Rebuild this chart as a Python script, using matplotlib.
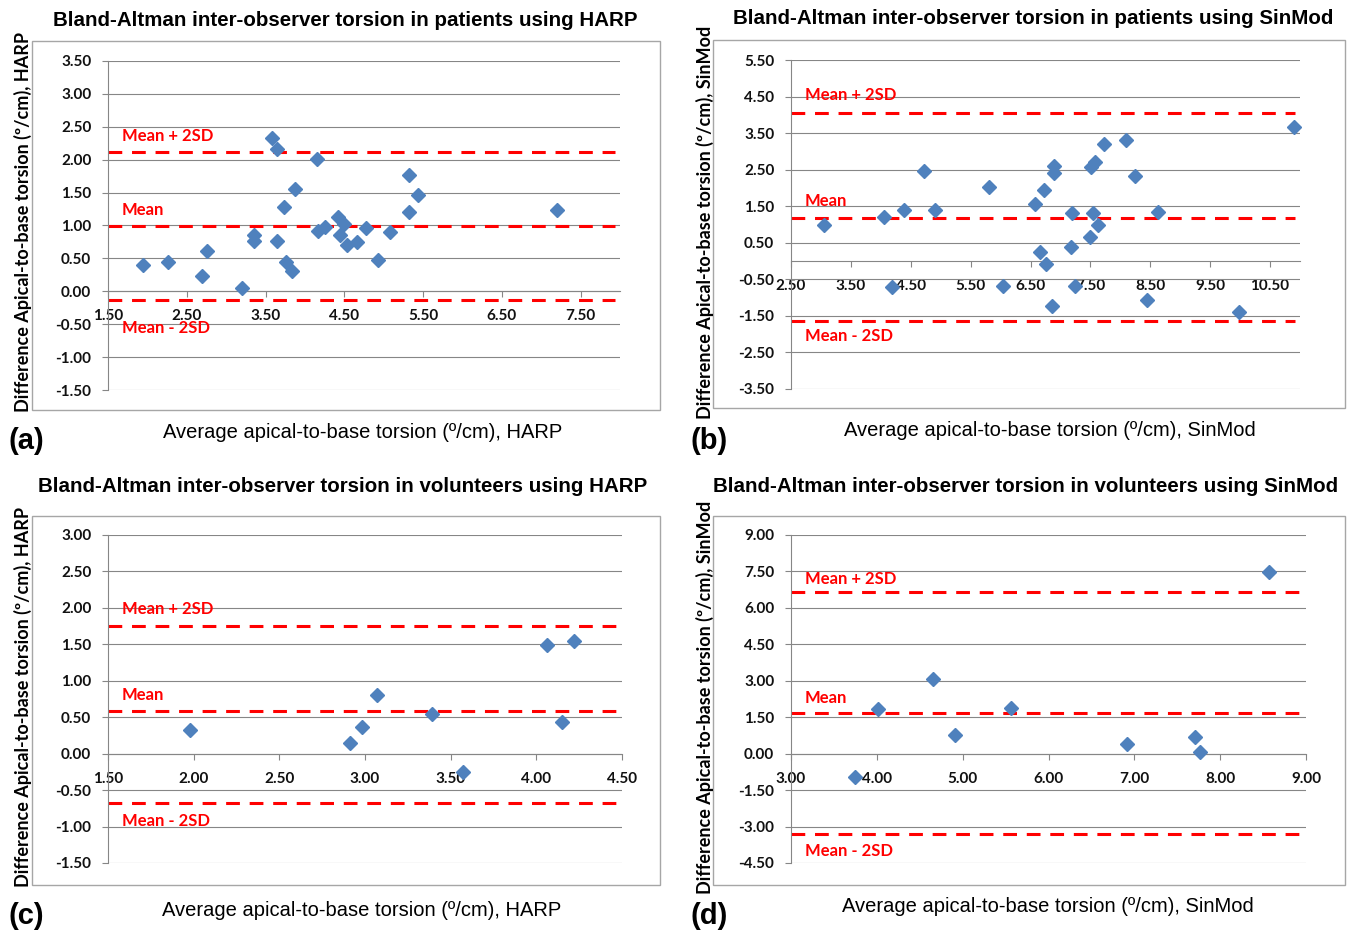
import matplotlib
matplotlib.use("Agg")
import matplotlib.pyplot as plt
from matplotlib.patches import Rectangle
from matplotlib import font_manager

W, H = 1358, 935

# ---- data ----
titles = ["Bland-Altman inter-observer torsion in patients using HARP",
          "Bland-Altman inter-observer torsion in patients using SinMod",
          "Bland-Altman inter-observer torsion in volunteers using HARP",
          "Bland-Altman inter-observer torsion in volunteers using SinMod"]
methods = ["HARP", "SinMod", "HARP", "SinMod"]
panel_tags = ["(a)", "(b)", "(c)", "(d)"]

a_avg = [1.95, 2.26, 2.69, 2.76, 3.20, 3.35, 3.35, 3.58, 3.64, 3.65, 3.74, 3.76, 3.83, 3.88,
         4.15, 4.17, 4.25, 4.42, 4.49, 4.45, 4.53, 4.66, 4.78, 4.93, 5.08, 5.32, 5.32, 5.43, 7.20]
a_diff = [0.40, 0.45, 0.23, 0.62, 0.05, 0.85, 0.77, 2.33, 2.17, 0.77, 1.28, 0.44, 0.31, 1.56,
          2.01, 0.92, 0.97, 1.13, 1.02, 0.85, 0.70, 0.75, 0.96, 0.48, 0.90, 1.76, 1.20, 1.46, 1.24]

b_avg = [3.05, 4.05, 4.18, 4.39, 4.72, 4.90, 5.80, 6.04, 6.58, 6.65, 6.72, 6.75, 6.86, 6.90, 6.90,
         7.18, 7.20, 7.25, 7.49, 7.51, 7.57, 7.55, 7.62, 7.72, 8.10, 8.25, 8.45, 8.63, 9.98, 10.90]
b_diff = [0.98, 1.20, -0.72, 1.39, 2.47, 1.41, 2.02, -0.69, 1.57, 0.24, 1.95, -0.07, -1.23, 2.61, 2.42,
          0.39, 1.32, -0.68, 0.65, 2.56, 2.71, 1.32, 0.98, 3.21, 3.31, 2.34, -1.07, 1.33, -1.39, 3.67]

c_avg = [1.98, 2.91, 2.98, 3.07, 3.39, 3.57, 4.06, 4.15, 4.22]
c_diff = [0.33, 0.15, 0.37, 0.80, 0.55, -0.25, 1.49, 0.44, 1.54]

d_avg = [3.74, 4.01, 4.65, 4.91, 5.56, 6.91, 7.71, 7.76, 8.57]
d_diff = [-0.94, 1.85, 3.09, 0.77, 1.86, 0.40, 0.67, 0.08, 7.48]

means = [0.99, 1.19, 0.58, 1.68]
upper = [2.11, 4.05, 1.75, 6.66]
lower = [-0.13, -1.64, -0.68, -3.30]

x_ranges = [(1.5, 8.0, 1.0), (2.5, 11.0, 1.0), (1.5, 4.5, 0.5), (3.0, 9.0, 1.0)]
y_ranges = [(-1.5, 3.5, 0.5), (-3.5, 5.5, 1.0), (-1.5, 3.0, 0.5), (-4.5, 9.0, 1.5)]

series = [(a_avg, a_diff), (b_avg, b_diff), (c_avg, c_diff), (d_avg, d_diff)]

# ---- layout (pixels) ----
plot_boxes = [(108, 61, 620, 390), (791, 60, 1300, 389), (108, 535, 622, 863), (791, 535, 1306, 863)]
frames = [(32, 41, 660, 410), (713, 40, 1345, 408), (32, 516, 660, 885), (713, 516, 1345, 885)]
title_xy = [(345, 20), (1033, 18), (343, 487), (1026, 487)]
ylab_xy = [(23, 222), (705, 222), (23, 697), (705, 697)]
xlab_xy = [(363, 433), (1050, 431), (362, 910), (1048, 907)]
tag_xy = [(8, 441), (690, 441), (8, 916), (690, 916)]
lab_off = [(16, 16, -28), (18, 17, -15), (17, 16, -18), (13, 15, -17)]

avail = {f.name for f in font_manager.fontManager.ttflist}
narrow = "Liberation Sans Narrow" if "Liberation Sans Narrow" in avail else "Liberation Sans"
body = "Lato"

grid_c = "#868686"
blue = "#4F81BD"

fig = plt.figure(figsize=(W / 100, H / 100), dpi=100)

for i in range(4):
    x0, y0, x1, y1 = plot_boxes[i]
    ax = fig.add_axes([x0 / W, (H - y1) / H, (x1 - x0) / W, (y1 - y0) / H])
    xmin, xmax, xstep = x_ranges[i]
    ymin, ymax, ystep = y_ranges[i]
    ax.set_xlim(xmin, xmax)
    ax.set_ylim(ymin, ymax)
    nx = int(round((xmax - xmin) / xstep))
    xt = [xmin + k * xstep for k in range(nx + 1) if xmin + k * xstep <= xmax - 0.5 * xstep or i >= 2]
    ax.set_xticks(xt)
    ax.set_xticklabels([f"{v:.2f}" for v in xt])
    ny = int(round((ymax - ymin) / ystep))
    yt = [ymin + k * ystep for k in range(ny + 1)]
    ax.set_yticks(yt)
    ax.set_yticklabels([f"{v:.2f}" for v in yt])

    ax.grid(axis="y", color=grid_c, lw=0.8, zorder=0)
    ax.set_axisbelow(True)
    for s in ["top", "right"]:
        ax.spines[s].set_visible(False)
    ax.spines["bottom"].set_position(("data", 0))
    ax.spines["bottom"].set_color(grid_c)
    ax.spines["left"].set_color(grid_c)
    ax.spines["bottom"].set_linewidth(0.8)
    ax.spines["left"].set_linewidth(0.8)
    ax.tick_params(axis="both", color=grid_c, length=4, width=0.8, direction="out")
    ax.tick_params(axis="y", pad=8)
    ax.tick_params(axis="x", pad=9)
    for lab in ax.get_xticklabels() + ax.get_yticklabels():
        lab.set_fontfamily(body)
        lab.set_fontweight("bold")
        lab.set_fontsize(11)
        lab.set_color("#111111")

    for v in (upper[i], means[i], lower[i]):
        ax.axhline(v, xmin=0, xmax=0.99, color="#FF0000", lw=2.2, dashes=(4.5, 3.2), zorder=2)

    xs, ys = series[i]
    ax.plot(xs, ys, ls="none", marker="D", ms=7.6, color=blue, mec=blue, zorder=3, clip_on=False)

    o_up, o_m, o_lo = lab_off[i]
    for v, txt, off in ((upper[i], "Mean + 2SD", o_up), (means[i], "Mean", o_m), (lower[i], "Mean - 2SD", o_lo)):
        ax.annotate(txt, xy=(0, v), xycoords=("axes fraction", "data"),
                    xytext=(10, off * 0.72), textcoords="offset points",
                    ha="left", va="center", color="#FF0000", fontsize=12,
                    fontweight="bold", family=body, zorder=4)

    fx0, fy0, fx1, fy1 = frames[i]
    fig.add_artist(Rectangle((fx0 / W, (H - fy1) / H), (fx1 - fx0) / W, (fy1 - fy0) / H,
                             transform=fig.transFigure, fill=False, ec="#A6A6A6", lw=1.0))

    tx, ty = title_xy[i]
    fig.text(tx / W, 1 - ty / H, titles[i], ha="center", va="center", fontsize=14.8,
             fontweight="bold", family=narrow)
    yx, yy = ylab_xy[i]
    fig.text(yx / W, 1 - yy / H, f"Difference Apical-to-base torsion (º/cm), {methods[i]}",
             rotation=90, ha="center", va="center", fontsize=13, fontweight="bold", family=body)
    lx, ly = xlab_xy[i]
    fig.text(lx / W, 1 - ly / H, f"Average apical-to-base torsion (º/cm), {methods[i]}",
             ha="center", va="center", fontsize=14.5, family=narrow)
    gx, gy = tag_xy[i]
    fig.text(gx / W, 1 - gy / H, panel_tags[i], ha="left", va="center", fontsize=21,
             fontweight="bold", family=narrow)

fig.savefig("out.png", dpi=100)
